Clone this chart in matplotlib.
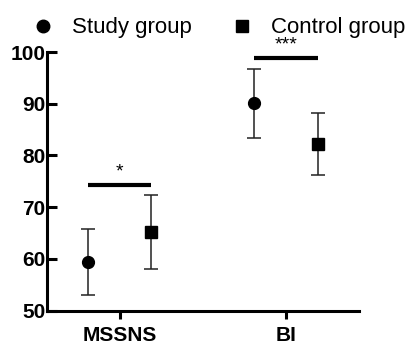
import numpy as np
import matplotlib.pyplot as plt
from matplotlib.lines import Line2D

# Data
categories = ["MSSNS", "BI"]
study_mean = [59.4, 90.1]
study_low = [53.0, 83.4]
study_high = [65.8, 96.7]
control_mean = [65.1, 82.3]
control_low = [58.0, 76.3]
control_high = [72.4, 88.3]
sig_labels = ["*", "***"]
sig_heights = [74.3, 98.9]

plt.rcParams['font.family'] = ['Liberation Sans', 'DejaVu Sans']

fig = plt.figure(figsize=(4.09, 3.41), dpi=100)
ax = fig.add_axes([0.115, 0.0894, 0.763, 0.758])

x = np.arange(len(categories))
off = 0.19

s_mean = np.array(study_mean)
c_mean = np.array(control_mean)
s_err = [s_mean - np.array(study_low), np.array(study_high) - s_mean]
c_err = [c_mean - np.array(control_low), np.array(control_high) - c_mean]

ax.errorbar(x - off, s_mean, yerr=s_err, fmt='o', color='black', ms=8.5,
            ecolor='#222222', elinewidth=1.1, capsize=5, capthick=1.1,
            clip_on=False)
ax.errorbar(x + off, c_mean, yerr=c_err, fmt='s', color='black', ms=8.5,
            ecolor='#222222', elinewidth=1.1, capsize=5, capthick=1.1,
            clip_on=False)

# Significance bars
for i in range(len(categories)):
    ax.plot([x[i] - off, x[i] + off], [sig_heights[i], sig_heights[i]],
            color='black', lw=3, solid_capstyle='butt', clip_on=False)
    ax.text(x[i], sig_heights[i] + 0.9, sig_labels[i], ha='center',
            va='bottom', fontsize=14)

ax.set_xlim(-0.435, 1.438)
ax.set_ylim(50, 100)
ax.set_yticks([50, 60, 70, 80, 90, 100])
ax.set_xticks(x)
ax.set_xticklabels(categories, fontweight='bold', fontsize=15)
for lab in ax.get_yticklabels():
    lab.set_fontweight('bold')
    lab.set_fontsize(15)

ax.spines['top'].set_visible(False)
ax.spines['right'].set_visible(False)
ax.spines['left'].set_linewidth(2.2)
ax.spines['bottom'].set_linewidth(2.2)
ax.tick_params(axis='y', direction='in', length=7, width=2.2, pad=1)
ax.tick_params(axis='x', direction='out', length=6, width=2.2, pad=5)

handles = [Line2D([], [], ls='none', marker='o', color='black', ms=9),
           Line2D([], [], ls='none', marker='s', color='black', ms=8.5)]
fig.legend(handles, ["Study group", "Control group"], loc='center left',
           bbox_to_anchor=(0.0733, 0.918), ncol=2, frameon=False, fontsize=16,
           handletextpad=0.7, columnspacing=1.65, handlelength=1.2,
           borderpad=0, borderaxespad=0)

fig.savefig("out.png", dpi=100)
